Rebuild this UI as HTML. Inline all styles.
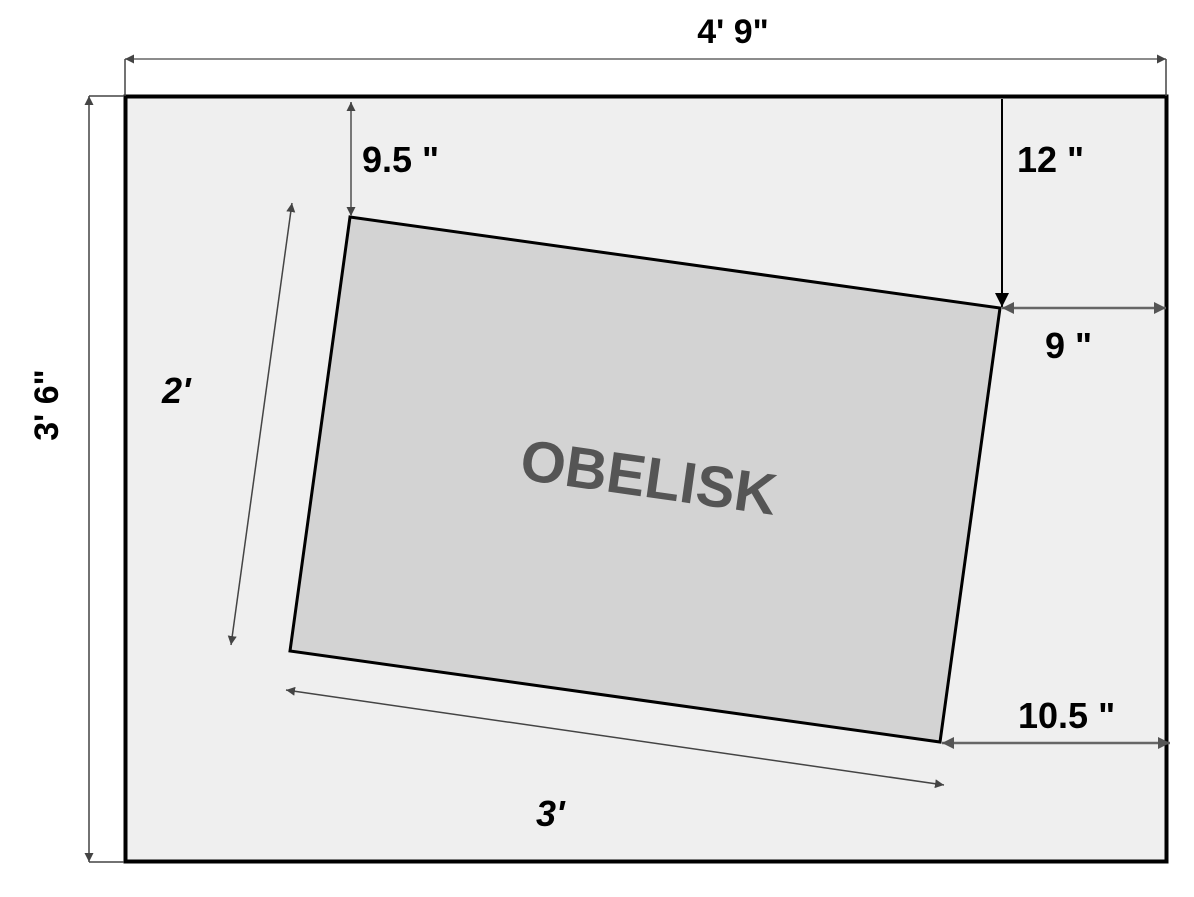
<!DOCTYPE html>
<html><head><style>
html,body{margin:0;padding:0;background:#fff;}
svg{display:block;}
text{font-family:"Liberation Sans",Arial,sans-serif;font-weight:bold;}
</style></head><body>
<svg width="1194" height="897" viewBox="0 0 1194 897" xmlns="http://www.w3.org/2000/svg">
<defs>
<marker id="g" viewBox="0 0 10 10" refX="10" refY="5" markerWidth="9" markerHeight="9" markerUnits="userSpaceOnUse" orient="auto-start-reverse"><path d="M0,0 L10,5 L0,10 z" fill="#444"/></marker>
<marker id="gg" viewBox="0 0 10 10" refX="10" refY="5" markerWidth="12" markerHeight="12" markerUnits="userSpaceOnUse" orient="auto-start-reverse"><path d="M0,0 L10,5 L0,10 z" fill="#555"/></marker>
<marker id="b" viewBox="0 0 10 10" refX="10" refY="5" markerWidth="14" markerHeight="14" markerUnits="userSpaceOnUse" orient="auto"><path d="M0,0 L10,5 L0,10 z" fill="#000"/></marker>
</defs>
<rect x="125.5" y="96.5" width="1041" height="765" fill="#efefef" stroke="#000" stroke-width="4"/>
<line x1="125" y1="59" x2="1166" y2="59" stroke="#666" stroke-width="1.5" marker-start="url(#g)" marker-end="url(#g)"/>
<line x1="125" y1="59" x2="125" y2="96" stroke="#444" stroke-width="1.5"/>
<line x1="1166" y1="59" x2="1166" y2="96" stroke="#444" stroke-width="1.5"/>
<text x="733" y="43" font-size="34" text-anchor="middle">4' 9"</text>
<line x1="89" y1="96" x2="89" y2="862" stroke="#444" stroke-width="1.5" marker-start="url(#g)" marker-end="url(#g)"/>
<line x1="89" y1="96" x2="124" y2="96" stroke="#444" stroke-width="1.5"/>
<line x1="89" y1="862" x2="124" y2="862" stroke="#444" stroke-width="1.5"/>
<text transform="translate(58,405) rotate(-90)" font-size="34" text-anchor="middle">3' 6"</text>
<polygon points="350,217 1000,308 940,742 290,651" fill="#d3d3d3" stroke="#000" stroke-width="3"/>
<text transform="translate(646,497) rotate(8)" font-size="58" fill="#555" text-anchor="middle">OBELISK</text>
<line x1="351" y1="102" x2="351" y2="216" stroke="#777" stroke-width="2" marker-start="url(#g)" marker-end="url(#g)"/>
<text x="362" y="172" font-size="36">9.5 "</text>
<line x1="1002" y1="99" x2="1002" y2="307" stroke="#000" stroke-width="2" marker-end="url(#b)"/>
<text x="1017" y="172" font-size="36">12 "</text>
<line x1="1002" y1="308" x2="1166" y2="308" stroke="#666" stroke-width="2.5" marker-start="url(#gg)" marker-end="url(#gg)"/>
<text x="1045" y="358" font-size="36">9 "</text>
<line x1="942" y1="743" x2="1170" y2="743" stroke="#666" stroke-width="2.5" marker-start="url(#gg)" marker-end="url(#gg)"/>
<text x="1018" y="728" font-size="36">10.5 "</text>
<line x1="292" y1="203" x2="231" y2="645" stroke="#444" stroke-width="1.5" marker-start="url(#g)" marker-end="url(#g)"/>
<text x="162" y="403" font-size="36" font-style="italic">2'</text>
<line x1="286" y1="690" x2="944" y2="785" stroke="#444" stroke-width="1.5" marker-start="url(#g)" marker-end="url(#g)"/>
<text x="536" y="826" font-size="36" font-style="italic">3'</text>
</svg>
</body></html>
